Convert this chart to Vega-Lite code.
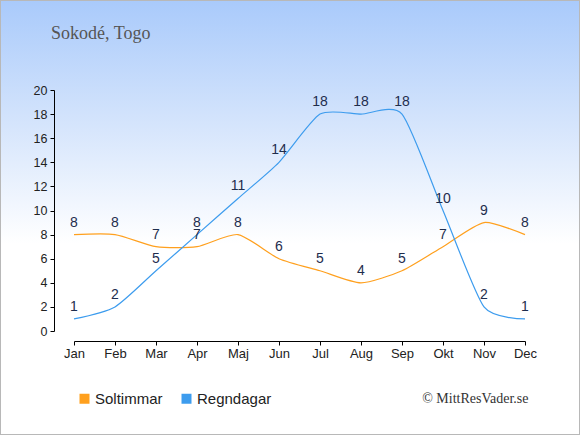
{
  "$schema": "https://vega.github.io/schema/vega-lite/v6.json",
  "width": 580,
  "height": 435,
  "autosize": {"type": "none"},
  "padding": 0,
  "background": "#ffffff",
  "title": {
    "text": "Sokodé, Togo",
    "anchor": "start",
    "frame": "group",
    "orient": "top",
    "offset": 0,
    "dx": 51,
    "dy": 57,
    "baseline": "alphabetic",
    "font": "Liberation Serif",
    "fontSize": 18,
    "fontWeight": "normal",
    "color": "#555555"
  },
  "data": {
    "values": [
      {"month": "Jan", "series": "Soltimmar", "value": 8},
      {"month": "Feb", "series": "Soltimmar", "value": 8},
      {"month": "Mar", "series": "Soltimmar", "value": 7},
      {"month": "Apr", "series": "Soltimmar", "value": 7},
      {"month": "Maj", "series": "Soltimmar", "value": 8},
      {"month": "Jun", "series": "Soltimmar", "value": 6},
      {"month": "Jul", "series": "Soltimmar", "value": 5},
      {"month": "Aug", "series": "Soltimmar", "value": 4},
      {"month": "Sep", "series": "Soltimmar", "value": 5},
      {"month": "Okt", "series": "Soltimmar", "value": 7},
      {"month": "Nov", "series": "Soltimmar", "value": 9},
      {"month": "Dec", "series": "Soltimmar", "value": 8},
      {"month": "Jan", "series": "Regndagar", "value": 1},
      {"month": "Feb", "series": "Regndagar", "value": 2},
      {"month": "Mar", "series": "Regndagar", "value": 5},
      {"month": "Apr", "series": "Regndagar", "value": 8},
      {"month": "Maj", "series": "Regndagar", "value": 11},
      {"month": "Jun", "series": "Regndagar", "value": 14},
      {"month": "Jul", "series": "Regndagar", "value": 18},
      {"month": "Aug", "series": "Regndagar", "value": 18},
      {"month": "Sep", "series": "Regndagar", "value": 18},
      {"month": "Okt", "series": "Regndagar", "value": 10},
      {"month": "Nov", "series": "Regndagar", "value": 2},
      {"month": "Dec", "series": "Regndagar", "value": 1}
    ]
  },
  "encoding": {
    "x": {
      "field": "month",
      "type": "ordinal",
      "sort": ["Jan", "Feb", "Mar", "Apr", "Maj", "Jun", "Jul", "Aug", "Sep", "Okt", "Nov", "Dec"],
      "scale": {"type": "point", "range": [74, 525], "padding": 0},
      "axis": {
        "title": "© MittResVader.se",
        "titleFont": "Liberation Serif",
        "titleFontSize": 14,
        "titleFontWeight": "normal",
        "titleColor": "#333333",
        "titleX": 528,
        "titleY": 61,
        "titleAlign": "right",
        "titleBaseline": "alphabetic",
        "offset": -94,
        "labelAngle": 0,
        "labelFont": "Liberation Sans",
        "labelFontSize": 13,
        "labelColor": "#222222",
        "labelPadding": 2,
        "tickSize": 4,
        "tickColor": "#000000",
        "domainColor": "#000000",
        "grid": false
      }
    },
    "y": {
      "field": "value",
      "type": "quantitative",
      "scale": {"domain": [0, 20], "range": [331, 90], "nice": false},
      "axis": {
        "title": null,
        "offset": -54,
        "values": [0, 2, 4, 6, 8, 10, 12, 14, 16, 18, 20],
        "labelFont": "Liberation Sans",
        "labelFontSize": 12.5,
        "labelColor": "#222222",
        "labelPadding": 3,
        "tickSize": 4,
        "tickColor": "#000000",
        "domainColor": "#000000",
        "grid": false
      }
    }
  },
  "layer": [
    {
      "mark": {"type": "line", "interpolate": "cardinal", "tension": 0.35, "strokeWidth": 1.2},
      "encoding": {
        "color": {
          "field": "series",
          "type": "nominal",
          "scale": {"domain": ["Soltimmar", "Regndagar"], "range": ["#ffa01e", "#3d9cee"]},
          "legend": {
            "orient": "none",
            "legendX": 77,
            "legendY": 391,
            "direction": "horizontal",
            "title": null,
            "padding": 0,
            "symbolType": "square",
            "symbolSize": 100,
            "symbolStrokeWidth": 0,
            "labelFont": "Liberation Sans",
            "labelFontSize": 15,
            "labelColor": "#222222",
            "labelOffset": 3,
            "columnPadding": 16,
            "encode": {
              "symbols": {
                "update": {
                  "fill": {"scale": "color", "field": "value"},
                  "opacity": {"value": 1}
                }
              }
            }
          }
        }
      }
    },
    {
      "mark": {
        "type": "text",
        "dy": -8,
        "baseline": "alphabetic",
        "font": "Liberation Sans",
        "fontSize": 14,
        "color": "#1e2d4d"
      },
      "encoding": {
        "text": {"field": "value", "type": "quantitative"},
        "detail": {"field": "series"}
      }
    }
  ],
  "config": {
    "view": {
      "fill": {
        "gradient": "linear",
        "x1": 0, "y1": 0, "x2": 0, "y2": 1,
        "stops": [
          {"offset": 0, "color": "#a9cafb"},
          {"offset": 0.28, "color": "#d4e4fc"},
          {"offset": 0.56, "color": "#ffffff"},
          {"offset": 1, "color": "#ffffff"}
        ]
      },
      "stroke": "#b8b8b8",
      "strokeWidth": 2
    }
  }
}
